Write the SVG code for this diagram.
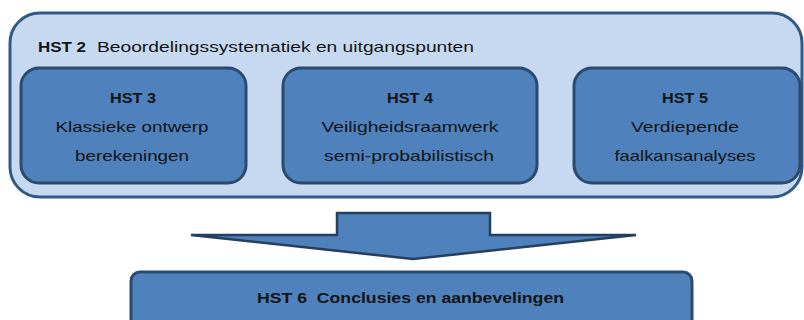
<svg xmlns="http://www.w3.org/2000/svg" width="804" height="320" viewBox="0 0 804 320">
  <style>
    .outer { fill: #c6d9f0; stroke: #2f5a88; stroke-width: 3; }
    .box { fill: #4f81bd; stroke: #2a4a6e; stroke-width: 3; }
    .arrow { fill: #4f81bd; stroke: #243f60; stroke-width: 2.5; stroke-linejoin: miter; }
    text { font-family: "Liberation Sans", Arial, sans-serif; font-size: 15px; fill: #141414; white-space: pre; }
    .b { font-weight: bold; }
    .c { text-anchor: middle; }
  </style>

  <g id="hst2">
    <rect class="outer" x="10" y="13" width="792" height="184" rx="30" ry="30"/>
    <text class="b" x="38" y="52" textLength="48" lengthAdjust="spacingAndGlyphs">HST 2</text>
    <text x="97" y="52" textLength="377" lengthAdjust="spacingAndGlyphs">Beoordelingssystematiek en uitgangspunten</text>
  </g>

  <g id="hst3">
    <rect class="box" x="21" y="68" width="225" height="115" rx="18" ry="18"/>
    <text class="b c" x="133" y="103" textLength="46" lengthAdjust="spacingAndGlyphs">HST 3</text>
    <text class="c" x="132" y="132" textLength="153" lengthAdjust="spacingAndGlyphs">Klassieke ontwerp</text>
    <text class="c" x="132" y="161" textLength="114" lengthAdjust="spacingAndGlyphs">berekeningen</text>
  </g>

  <g id="hst4">
    <rect class="box" x="283" y="68" width="254" height="115" rx="18" ry="18"/>
    <text class="b c" x="410" y="103" textLength="46" lengthAdjust="spacingAndGlyphs">HST 4</text>
    <text class="c" x="410" y="132" textLength="177" lengthAdjust="spacingAndGlyphs">Veiligheidsraamwerk</text>
    <text class="c" x="409" y="161" textLength="170" lengthAdjust="spacingAndGlyphs">semi-probabilistisch</text>
  </g>

  <g id="hst5">
    <rect class="box" x="574" y="68" width="226" height="115" rx="18" ry="18"/>
    <text class="b c" x="685" y="103" textLength="46" lengthAdjust="spacingAndGlyphs">HST 5</text>
    <text class="c" x="685" y="132" textLength="108" lengthAdjust="spacingAndGlyphs">Verdiepende</text>
    <text class="c" x="685" y="161" textLength="141" lengthAdjust="spacingAndGlyphs">faalkansanalyses</text>
  </g>

  <g id="connectors">
    <polygon class="arrow" points="337,213 490,213 490,235 636,235 413,259 191,235 337,235"/>
  </g>

  <g id="hst6">
    <rect class="box" x="131" y="272" width="561" height="70" rx="9" ry="9"/>
    <text class="b" x="257" y="303" textLength="307" lengthAdjust="spacingAndGlyphs">HST 6  Conclusies en aanbevelingen</text>
  </g>
</svg>
